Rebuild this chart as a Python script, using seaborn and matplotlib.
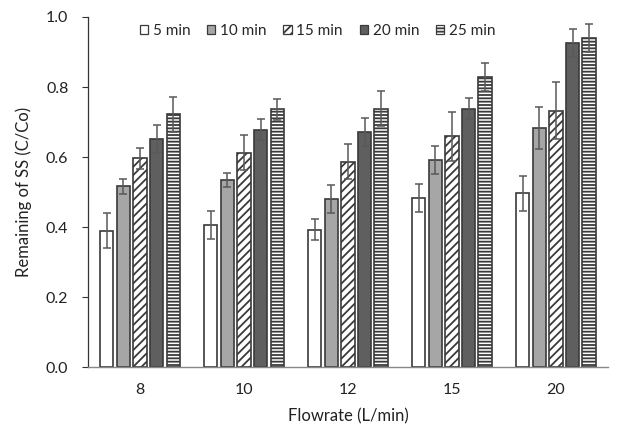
import matplotlib
matplotlib.use("Agg")
import matplotlib.pyplot as plt
import seaborn as sns
import pandas as pd
import numpy as np
from matplotlib.patches import Patch

flowrates = ["8", "10", "12", "15", "20"]
times = ["5 min", "10 min", "15 min", "20 min", "25 min"]

vals_5 = [0.390, 0.405, 0.393, 0.482, 0.497]
vals_10 = [0.516, 0.535, 0.481, 0.592, 0.682]
vals_15 = [0.597, 0.612, 0.587, 0.660, 0.733]
vals_20 = [0.652, 0.678, 0.672, 0.738, 0.925]
vals_25 = [0.722, 0.737, 0.738, 0.830, 0.940]

err_5 = [0.050, 0.040, 0.030, 0.040, 0.050]
err_10 = [0.020, 0.020, 0.040, 0.040, 0.060]
err_15 = [0.030, 0.050, 0.050, 0.070, 0.080]
err_20 = [0.040, 0.030, 0.040, 0.030, 0.040]
err_25 = [0.050, 0.030, 0.050, 0.040, 0.040]

all_vals = [vals_5, vals_10, vals_15, vals_20, vals_25]
all_errs = [err_5, err_10, err_15, err_20, err_25]

rows = []
for t, vs, es in zip(times, all_vals, all_errs):
    for f, v, e in zip(flowrates, vs, es):
        rows.append({"Flowrate": f, "Time": t, "Value": v, "Err": e})
df = pd.DataFrame(rows)

sns.set_style("white")
plt.rcParams["font.family"] = ["Lato", "DejaVu Sans"]
plt.rcParams["hatch.linewidth"] = 1.3

fills = ["#ffffff", "#a6a6a6", "#ffffff", "#5f5f5f", "#ffffff"]
hatches = ["", "", "////", "", "-----"]
edge = "#3a3a3a"

fig = plt.figure(figsize=(6.19, 4.25), dpi=100)
ax = fig.add_axes([0.142, 0.136, 0.840, 0.824])

sns.barplot(data=df, x="Flowrate", y="Value", hue="Time", order=flowrates,
            hue_order=times, palette=fills, errorbar=None, gap=0.2,
            width=0.8, ax=ax, edgecolor=edge, linewidth=1.2, legend=False)

bar_containers = list(ax.containers)[:5]
for ci, cont in enumerate(bar_containers):
    xs = []
    for bar in cont.patches:
        bar.set_hatch(hatches[ci])
        bar.set_edgecolor(edge)
        xs.append(bar.get_x() + bar.get_width() / 2)
    ax.errorbar(xs, all_vals[ci], yerr=all_errs[ci], fmt="none",
                ecolor="#595959", elinewidth=1.1, capsize=3, capthick=1.1,
                zorder=5)

ax.set_ylim(0, 1.0)
ax.set_yticks([0.0, 0.2, 0.4, 0.6, 0.8, 1.0])
ax.set_yticklabels(["0.0", "0.2", "0.4", "0.6", "0.8", "1.0"])
ax.set_xlim(-0.5, 4.5)
ax.set_xlabel("Flowrate (L/min)", fontsize=12, color="#222222", labelpad=8)
ax.set_ylabel("Remaining of SS (C/Co)", fontsize=12, color="#222222", labelpad=10)
ax.tick_params(axis="y", which="both", left=True, length=4, width=0.8,
               color="#333333", labelsize=11.5, labelcolor="#222222", pad=10)
ax.tick_params(axis="x", which="both", bottom=False, labelsize=11.5,
               labelcolor="#222222", pad=8)
for s in ["top", "right"]:
    ax.spines[s].set_visible(False)
ax.spines["left"].set_color("#333333")
ax.spines["bottom"].set_color("#888888")
ax.spines["left"].set_linewidth(0.9)
ax.spines["bottom"].set_linewidth(1.0)

handles = [Patch(facecolor=fills[i], edgecolor=edge, hatch=hatches[i],
                 linewidth=0.9) for i in range(5)]
plt.rcParams["hatch.linewidth"] = 1.3
fig.legend(handles, times, loc="center", bbox_to_anchor=(0.513, 0.928),
           ncol=5, frameon=False, fontsize=11, handlelength=0.55,
           handleheight=0.55, handletextpad=0.3, columnspacing=1.1,
           borderaxespad=0)

fig.savefig("out.png", dpi=100)
